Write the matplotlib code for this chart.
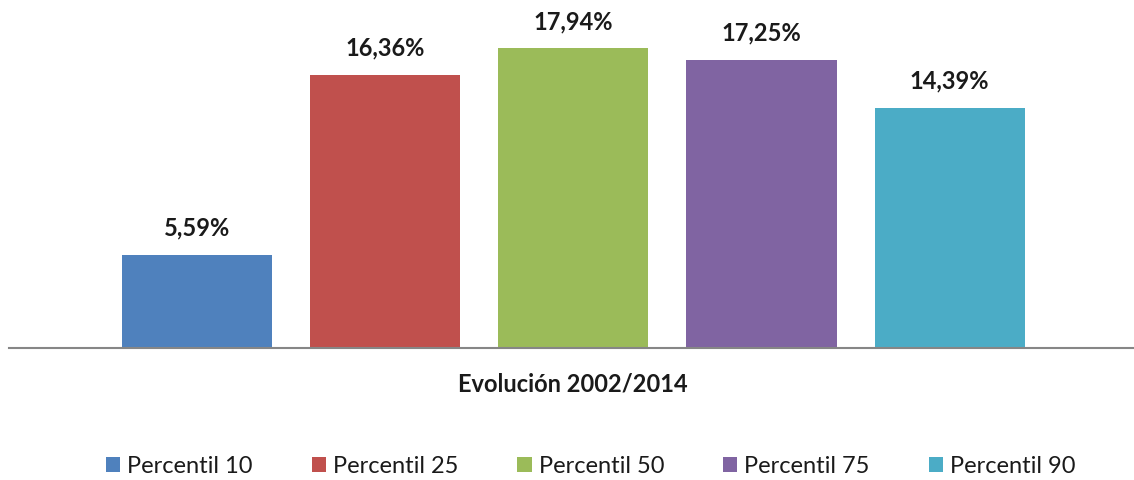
import matplotlib.pyplot as plt
from matplotlib.patches import Patch

categories = ["Percentil 10", "Percentil 25", "Percentil 50", "Percentil 75", "Percentil 90"]
values = [5.59, 16.36, 17.94, 17.25, 14.39]
labels = ["5,59%", "16,36%", "17,94%", "17,25%", "14,39%"]
colors = ["#4F81BD", "#C0504D", "#9BBB59", "#8064A2", "#4BACC6"]

plt.rcParams["font.family"] = ["Lato", "DejaVu Sans"]

fig = plt.figure(figsize=(11.34, 4.81), dpi=100)
ax = fig.add_axes([0.008, 0.2744, 0.992, 0.6944])

x = list(range(len(values)))
ax.bar(x, values, width=0.798, color=colors)
for xi, v, lab in zip(x, values, labels):
    ax.annotate(lab, (xi, v), xytext=(0, 20), textcoords="offset points",
                ha="center", va="center", fontsize=17, fontweight="bold", color="#1a1a1a")

ax.set_xlim(-1.0, 4.98)
ax.set_ylim(0, 20)
for s in ["top", "right", "left"]:
    ax.spines[s].set_visible(False)
ax.spines["bottom"].set_color("#868686")
ax.spines["bottom"].set_linewidth(1.5)
ax.set_xticks([])
ax.set_yticks([])

fig.text(0.505, 1 - 384 / 481, "Evolución 2002/2014", ha="center", va="center",
         fontsize=17, fontweight="bold", color="#1a1a1a")

handles = [Patch(facecolor=c, label=n) for c, n in zip(colors, categories)]
fig.legend(handles=handles, loc="center", bbox_to_anchor=(0.521, 1 - 467 / 481), ncol=5,
           frameon=False, fontsize=17, handlelength=0.6, handleheight=0.6,
           handletextpad=0.3, columnspacing=2.5, labelcolor="#1a1a1a")

fig.savefig("out.png", dpi=100)
